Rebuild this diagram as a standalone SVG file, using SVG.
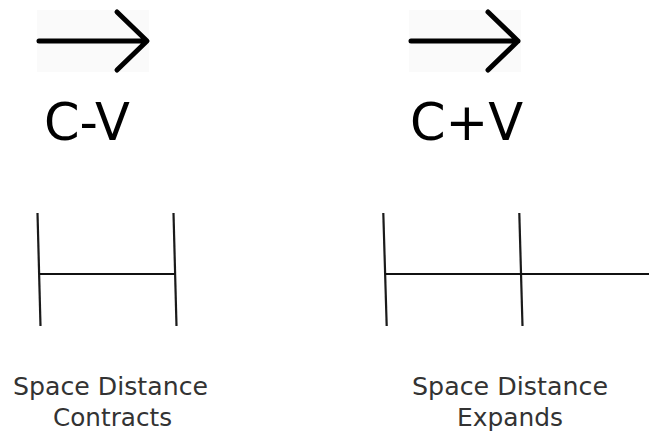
<svg xmlns="http://www.w3.org/2000/svg" width="649" height="432" viewBox="0 0 649 432">
<style>
.arrow{fill:none;stroke:#000;stroke-width:5;stroke-linecap:round;stroke-linejoin:round}
.bar{fill:none;stroke:#1a1a1a;stroke-width:2.2}
.hbar{fill:none;stroke:#111;stroke-width:2}
.big{font-family:"DejaVu Sans",sans-serif;font-size:51px;fill:#000}
.lbl{font-family:"DejaVu Sans",sans-serif;font-size:25px;fill:#333;text-anchor:middle}
</style>
<rect width="649" height="432" fill="#fff"/>
<g id="left-arrow">
<rect x="37" y="10" width="112" height="62" fill="#fafafa"/>
<path class="arrow" d="M39 41H146M117 12L147 41L117 70"/>
</g>
<g id="right-arrow">
<rect x="409" y="10" width="112" height="62" fill="#fafafa"/>
<path class="arrow" d="M411 41H518M488 12L518 41L488 70"/>
</g>
<text id="cv-minus" class="big" x="44" y="140">C-V</text>
<text id="cv-plus" class="big" x="410" y="140">C+V</text>
<g id="contracts">
<line class="bar" x1="37.5" y1="213" x2="40.5" y2="326"/>
<line class="bar" x1="173.5" y1="213" x2="176.5" y2="326"/>
<line class="hbar" x1="39.5" y1="274" x2="175.5" y2="274"/>
</g>
<g id="expands">
<line class="bar" x1="383.3" y1="213" x2="386.7" y2="326"/>
<line class="bar" x1="519.3" y1="213" x2="522.5" y2="326"/>
<line class="hbar" x1="385" y1="274" x2="649" y2="274"/>
</g>
<g id="label-left">
<text class="lbl" x="110.5" y="395" textLength="195" lengthAdjust="spacingAndGlyphs">Space Distance</text>
<text class="lbl" x="112.5" y="426" textLength="119" lengthAdjust="spacingAndGlyphs">Contracts</text>
</g>
<g id="label-right">
<text class="lbl" x="510" y="395" textLength="196" lengthAdjust="spacingAndGlyphs">Space Distance</text>
<text class="lbl" x="510" y="426" textLength="106" lengthAdjust="spacingAndGlyphs">Expands</text>
</g>
</svg>
